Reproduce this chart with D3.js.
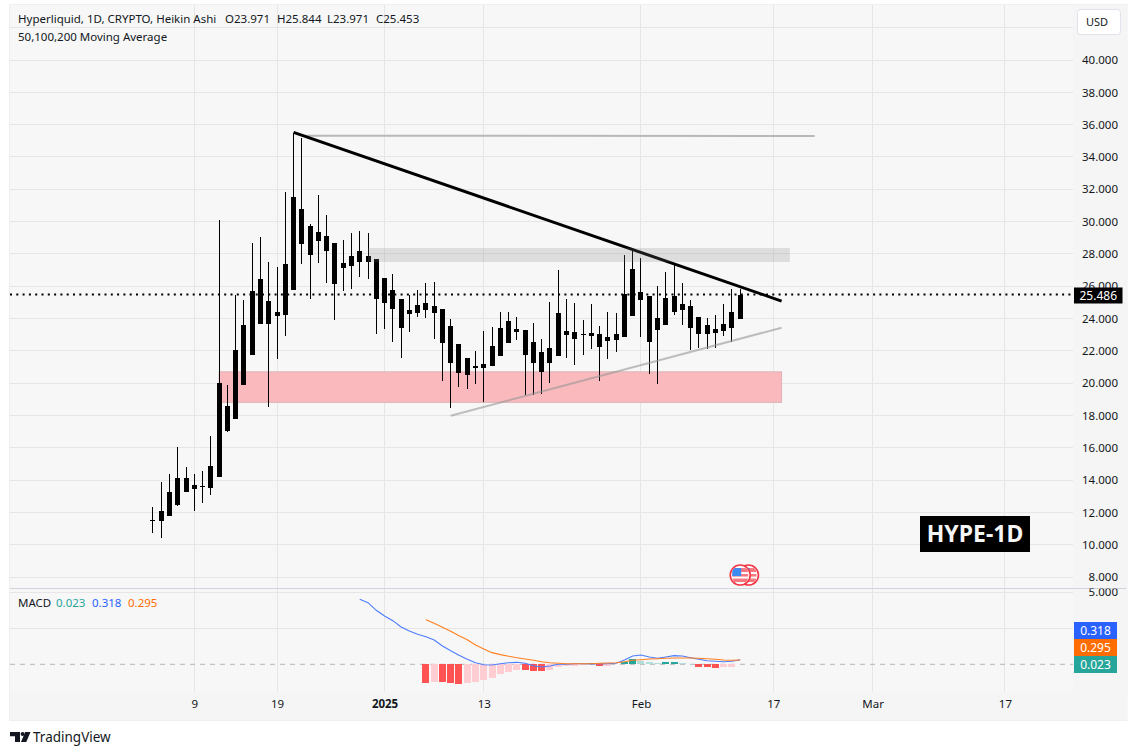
<!DOCTYPE html>
<html>
<head>
<meta charset="utf-8">
<title>HYPE-1D</title>
<script src="https://cdn.jsdelivr.net/npm/d3@7/dist/d3.min.js"></script>
<style>
  html, body { margin: 0; padding: 0; background: #fff; }
  text { font-family: "Noto Sans", sans-serif; fill: #131722; }
</style>
</head>
<body>
<div id="chart"></div>
<script>
// Heikin Ashi daily candles, first one is 2024-12-04
var firstDay = "2024-12-04";
var highs = [12.31, 13.88, 14.37, 16.04, 14.81, 14.37, 14.56, 16.72, 30.09, 19.88, 25.45, 25.14, 28.67, 29.04, 27.50, 27.19, 31.83, 35.48, 35.17, 29.85, 31.64, 30.40, 28.67, 28.86, 29.29, 29.41, 29.29, 27.68,
  26.51, 26.75, 25.20, 25.45, 25.76, 26.19, 26.26, 24.59, 23.97, 22.42, 21.55, 21.99, 23.22, 23.47, 24.40, 24.40, 24.09, 23.28, 23.72, 22.73, 25.02, 27.00, 25.20, 24.95, 23.91, 24.89, 23.53, 24.40, 24.34, 27.93, 28.36,
  27.74, 25.39, 26.01, 26.87, 27.37, 26.19, 25.14, 24.09, 24.03, 24.21, 24.89, 25.82, 25.844];
var lows = [10.74, 10.43, 11.77, 12.39, 13.26, 12.10, 12.58, 13.07, 14.19, 16.97, 17.80, 19.88, 21.74, 23.66, 18.54, 21.49, 22.91, 25.76, 27.37, 25.20, 27.43, 26.19, 23.91, 25.70, 25.82, 26.57, 26.44, 23.04,
  23.35, 22.54, 21.55, 23.16, 24.09, 24.03, 22.73, 20.13, 18.46, 19.76, 19.63, 19.94, 18.83, 21.06, 21.67, 22.48, 22.67, 19.26, 19.26, 19.32, 20.01, 21.67, 21.55, 21.12, 21.74, 22.11, 20.13, 21.49, 21.92, 22.85, 24.15,
  22.85, 20.56, 19.94, 23.60, 24.21, 23.60, 22.05, 22.17, 22.11, 22.17, 22.91, 22.54, 23.971];
var bodyTops = [11.54, 12.08, 13.26, 14.12, 14.12, 13.69, 13.64, 14.87, 20.01, 18.58, 22.05, 23.59, 25.70, 26.44, 25.08, 24.40, 27.37, 31.52, 30.77, 29.72, 29.35, 29.10, 28.67, 27.43, 27.87, 28.17, 27.87, 27.68,
  26.51, 25.76, 25.20, 24.52, 24.83, 24.95, 24.77, 24.59, 23.53, 22.42, 21.55, 21.04, 21.18, 22.30, 23.41, 23.84, 23.35, 23.28, 22.54, 21.92, 22.17, 24.34, 23.22, 23.16, 23.01, 23.10, 23.04, 22.85, 23.04, 25.51, 27.06,
  25.64, 25.39, 24.03, 25.26, 25.39, 24.89, 24.77, 24.09, 23.60, 23.35, 23.66, 24.40, 25.453];
var bodyBottoms = [11.50, 11.48, 11.77, 12.45, 13.26, 13.44, 13.58, 13.50, 14.19, 17.05, 17.80, 19.88, 21.74, 23.66, 23.66, 24.15, 24.21, 25.76, 28.61, 27.93, 28.79, 28.17, 26.13, 27.12, 27.25, 27.50, 27.50, 25.20,
  24.95, 24.59, 23.41, 24.28, 24.34, 24.52, 24.34, 22.48, 21.24, 20.63, 20.50, 20.96, 20.93, 21.06, 21.67, 22.48, 23.16, 21.74, 21.24, 20.69, 21.24, 21.67, 22.98, 22.73, 22.95, 22.91, 22.23, 22.60, 22.67, 22.85, 24.15,
  25.14, 22.54, 23.28, 23.60, 24.40, 24.52, 23.41, 23.04, 23.04, 23.10, 23.22, 23.41, 23.971];

var lastPrice = 25.486;
var headerText = "Hyperliquid, 1D, CRYPTO, Heikin Ashi";
var ohlcLabels = ["O23.971", "H25.844", "L23.971", "C25.453"];

// MACD lines start later than the candles because of the lookback
var macdStart = "2024-12-29";
var macdLine = [4.51, 4.28, 3.75, 3.35, 3.03, 2.59, 2.31, 2.08, 1.92, 1.69, 1.27, 0.94, 0.63, 0.35, 0.11, -0.03, -0.05, 0.04, 0.11, 0.14, 0.07, -0.10, -0.19, -0.12, 0, 0, 0.04, 0.04, 0.02, 0.04, 0.04, 0.07, 0.30, 0.58,
  0.65, 0.51, 0.42, 0.51, 0.60, 0.58, 0.46, 0.35, 0.25, 0.21, 0.18, 0.21, 0.318];
var signalStart = "2025-01-06";
var signalLine = [3.10, 2.85, 2.57, 2.29, 1.99, 1.71, 1.34, 1.06, 0.81, 0.67, 0.56, 0.46, 0.37, 0.28, 0.18, 0.11, 0.07, 0.04, 0.04, 0.04, 0.04, 0.07, 0.09, 0.11, 0.18, 0.28, 0.32, 0.37, 0.39, 0.42, 0.44, 0.44, 0.44, 0.42, 0.39, 0.35, 0.30, 0.28, 0.295];
var histogram = [-1.30, -1.23, -1.24, -1.30, -1.37, -1.32, -1.23, -1.09, -0.95, -0.67, -0.53, -0.39, -0.40, -0.46, -0.47, -0.39, -0.19, -0.12, -0.11, -0.03, 0.07, -0.10, -0.09, 0.04, 0.13, 0.37,
  0.25, 0.16, 0.11, 0.13, 0.19, 0.09, 0.05, -0.18, -0.20, -0.25, -0.19, -0.18, 0.023];

// axis ticks
var priceGrid = [8, 10, 12, 14, 16, 18, 20, 22, 24, 26, 28, 30, 32, 34, 36, 38, 40, 42];
var priceLabels = [8, 10, 12, 14, 16, 18, 20, 22, 24, 26, 28, 30, 32, 34, 36, 38, 40];
var macdGrid = [2.5, 5];
var timeTicks = ["2024-12-09", "2024-12-19", "2025-01-01", "2025-01-13", "2025-02-01", "2025-02-17", "2025-03-01", "2025-03-17"];
var timeLabels = ["9", "19", "2025", "13", "Feb", "17", "Mar", "17"];

// things drawn by hand on the chart
var blackLine = [["2024-12-21", 35.52], ["2025-02-18", 25.08]];
var topLine = [["2024-12-22", 35.31], ["2025-02-22", 35.30]];
var risingLine = [["2025-01-09", 17.98], ["2025-02-18", 23.43]];
var greyZone = { from: "2024-12-30", to: "2025-02-19", top: 28.36, bottom: 27.50 };
var redZone = { from: "2024-12-12", to: "2025-02-18", top: 20.70, bottom: 18.81 };
var eventDays = ["2025-02-14", "2025-02-13"];

var width = 1137, height = 755;
var plotLeft = 10, plotRight = 1073, panelRight = 1127, panelTop = 4, panelBottom = 720;
var plotBottom = 692, paneLine = 588.5;

var parseDay = d3.utcParse("%Y-%m-%d");

var x = d3.scaleUtc()
  .domain([parseDay("2024-12-09"), parseDay("2025-02-17")])
  .range([194.3, 773.3]);
var y = d3.scaleLinear().domain([8, 40]).range([577, 60]);
var yMacd = d3.scaleLinear().domain([0, 5]).range([664.3, 592.3]);

function daysFrom(start, n) {
  var first = parseDay(start);
  return d3.range(n).map(function (i) {
    return d3.utcDay.offset(first, i);
  });
}
function snap(v) {
  return Math.floor(v);
}

var svg = d3.select("#chart").append("svg")
  .attr("width", width)
  .attr("height", height)
  .style("display", "block");

svg.append("rect")
  .attr("x", 9.5).attr("y", panelTop + 0.5)
  .attr("width", panelRight - 9.5).attr("height", panelBottom - panelTop)
  .attr("fill", "#f7f7f7")
  .attr("stroke", "#efefef");
svg.append("rect")
  .attr("x", plotRight).attr("y", panelTop + 1)
  .attr("width", panelRight - plotRight - 0.5).attr("height", panelBottom - panelTop - 1)
  .attr("fill", "#f5f5f5");
svg.append("rect")
  .attr("x", 10).attr("y", plotBottom)
  .attr("width", panelRight - 10.5).attr("height", panelBottom - plotBottom)
  .attr("fill", "#f5f5f5");

svg.append("clipPath").attr("id", "macd-clip").append("rect")
  .attr("x", 0).attr("y", paneLine).attr("width", width).attr("height", height);

// grid
var gridColor = "#e6e6e6";
var timeDates = timeTicks.map(parseDay);

svg.append("g").selectAll("line")
  .data(timeDates)
  .enter().append("line")
  .attr("x1", function (d) { return snap(x(d)) + 0.5; })
  .attr("x2", function (d) { return snap(x(d)) + 0.5; })
  .attr("y1", panelTop + 1)
  .attr("y2", plotBottom)
  .attr("stroke", gridColor);

svg.append("g").selectAll("line")
  .data(priceGrid)
  .enter().append("line")
  .attr("x1", plotLeft)
  .attr("x2", plotRight)
  .attr("y1", function (d) { return snap(y(d)) + 0.5; })
  .attr("y2", function (d) { return snap(y(d)) + 0.5; })
  .attr("stroke", gridColor);

svg.append("g").selectAll("line")
  .data(macdGrid)
  .enter().append("line")
  .attr("x1", plotLeft)
  .attr("x2", plotRight)
  .attr("y1", function (d) { return snap(yMacd(d)) + 0.5; })
  .attr("y2", function (d) { return snap(yMacd(d)) + 0.5; })
  .attr("stroke", gridColor);

// red zone sits under the candles
svg.append("rect")
  .attr("x", x(parseDay(redZone.from)))
  .attr("y", y(redZone.top))
  .attr("width", x(parseDay(redZone.to)) - x(parseDay(redZone.from)))
  .attr("height", y(redZone.bottom) - y(redZone.top))
  .attr("fill", "#fab9bd")
  .attr("stroke", "#dcb4b7")
  .attr("stroke-width", 1);

// candles
var days = daysFrom(firstDay, highs.length);
var candles = svg.append("g").attr("shape-rendering", "crispEdges");

candles.selectAll("line")
  .data(days)
  .enter().append("line")
  .attr("x1", function (d) { return snap(x(d)) + 0.5; })
  .attr("x2", function (d) { return snap(x(d)) + 0.5; })
  .attr("y1", function (d, i) { return y(highs[i]); })
  .attr("y2", function (d, i) { return y(lows[i]); })
  .attr("stroke", "#000");

candles.selectAll("rect")
  .data(days)
  .enter().append("rect")
  .attr("x", function (d) { return snap(x(d)) - 2; })
  .attr("width", 5)
  .attr("y", function (d, i) { return y(bodyTops[i]); })
  .attr("height", function (d, i) {
    return Math.max(1, y(bodyBottoms[i]) - y(bodyTops[i]));
  })
  .attr("fill", "#000");

// last price line
svg.append("line")
  .attr("x1", plotLeft)
  .attr("x2", plotRight)
  .attr("y1", y(lastPrice))
  .attr("y2", y(lastPrice))
  .attr("stroke", "#000")
  .attr("stroke-width", 2)
  .attr("stroke-dasharray", "2 4.3");

// drawn lines
function drawnLine(points, color, w) {
  svg.append("line")
    .attr("x1", x(parseDay(points[0][0])))
    .attr("y1", y(points[0][1]))
    .attr("x2", x(parseDay(points[1][0])))
    .attr("y2", y(points[1][1]))
    .attr("stroke", color)
    .attr("stroke-width", w);
}
drawnLine(topLine, "#b8b8b8", 2);
drawnLine(blackLine, "#000", 3);
drawnLine(risingLine, "rgba(150,150,150,0.6)", 2);

// grey zone goes over the black line, it fades it a little
svg.append("rect")
  .attr("x", x(parseDay(greyZone.from)))
  .attr("y", y(greyZone.top))
  .attr("width", x(parseDay(greyZone.to)) - x(parseDay(greyZone.from)))
  .attr("height", y(greyZone.bottom) - y(greyZone.top))
  .attr("fill", "rgba(120,120,120,0.2)");

// economic event flags
svg.append("clipPath").attr("id", "flag-clip").append("circle")
  .attr("r", 9);

var flags = svg.append("g").selectAll("g")
  .data(eventDays)
  .enter().append("g")
  .attr("transform", function (d) {
    return "translate(" + x(parseDay(d)) + "," + y(8.12) + ")";
  });
flags.append("circle").attr("r", 10).attr("fill", "#fff").attr("stroke", "#f23645").attr("stroke-width", 1.6);
var flagInner = flags.append("g").attr("clip-path", "url(#flag-clip)");
flagInner.append("rect").attr("x", -8).attr("y", -7).attr("width", 16).attr("height", 4).attr("fill", "#f7777f");
flagInner.append("rect").attr("x", -8).attr("y", -1).attr("width", 16).attr("height", 2.5).attr("fill", "#f7777f");
flagInner.append("rect").attr("x", -8).attr("y", 3.5).attr("width", 16).attr("height", 3.5).attr("fill", "#f7777f");
flagInner.append("rect").attr("x", -8).attr("y", -7).attr("width", 9).attr("height", 8).attr("fill", "#3d8bf0");

// pane divider
svg.append("line")
  .attr("x1", plotLeft).attr("x2", panelRight - 0.5)
  .attr("y1", paneLine).attr("y2", paneLine)
  .attr("stroke", "#d3d3de")
  .attr("stroke-width", 1.2);

// MACD pane
svg.append("line")
  .attr("x1", plotLeft)
  .attr("x2", plotRight)
  .attr("y1", yMacd(0))
  .attr("y2", yMacd(0))
  .attr("stroke", "#b2b5be")
  .attr("stroke-dasharray", "5 5");

var histDays = daysFrom(signalStart, histogram.length);
svg.append("g").attr("shape-rendering", "crispEdges")
  .selectAll("rect")
  .data(histDays)
  .enter().append("rect")
  .attr("x", function (d) { return snap(x(d)) - 3; })
  .attr("width", 7)
  .attr("y", function (d, i) { return Math.min(yMacd(histogram[i]), yMacd(0)); })
  .attr("height", function (d, i) { return Math.abs(yMacd(histogram[i]) - yMacd(0)); })
  .attr("fill", function (d, i) {
    var v = histogram[i], rising = i > 0 && v > histogram[i - 1];
    if (v >= 0) return rising ? "#26a69a" : "#b2dfdb";
    return rising ? "#ffcdd2" : "#ff5252";
  });

var macdPath = d3.line()
  .x(function (d) { return x(d[0]); })
  .y(function (d) { return yMacd(d[1]); });

svg.append("path")
  .attr("d", macdPath(d3.zip(daysFrom(macdStart, macdLine.length), macdLine)))
  .attr("fill", "none")
  .attr("stroke", "#4d7dff")
  .attr("stroke-width", 1.1);

svg.append("path")
  .attr("d", macdPath(d3.zip(daysFrom(signalStart, signalLine.length), signalLine)))
  .attr("fill", "none")
  .attr("stroke", "#ff7f1e")
  .attr("stroke-width", 1.1);

// axes
var priceAxis = d3.axisRight(y)
  .tickValues(priceLabels)
  .tickSize(0)
  .tickFormat(d3.format(".3f"));
var priceG = svg.append("g")
  .attr("transform", "translate(1118,0)")
  .call(priceAxis);
priceG.select(".domain").remove();
priceG.selectAll("text")
  .attr("x", 0)
  .attr("text-anchor", "end")
  .style("font-size", "11.5px")
  .style("font-family", '"Noto Sans", sans-serif')
  .attr("fill", "#131722");

var macdAxis = d3.axisRight(yMacd)
  .tickValues([5])
  .tickSize(0)
  .tickFormat(d3.format(".3f"));
var macdG = svg.append("g")
  .attr("clip-path", "url(#macd-clip)")
  .append("g")
  .attr("transform", "translate(1118,0)")
  .call(macdAxis);
macdG.select(".domain").remove();
macdG.selectAll("text")
  .attr("x", 0)
  .attr("text-anchor", "end")
  .style("font-size", "11.5px")
  .style("font-family", '"Noto Sans", sans-serif')
  .attr("fill", "#131722");

var timeAxis = d3.axisBottom(x)
  .tickValues(timeDates)
  .tickSize(0)
  .tickFormat(function (d, i) { return timeLabels[i]; });
var timeG = svg.append("g")
  .attr("transform", "translate(0,697)")
  .call(timeAxis);
timeG.select(".domain").remove();
timeG.selectAll("text")
  .style("font-size", "11.5px")
  .style("font-family", '"Noto Sans", sans-serif')
  .style("font-weight", function (d, i) { return timeLabels[i] == "2025" ? 700 : 400; })
  .attr("fill", "#131722");

// price badges
var badges = [
  { value: lastPrice, top: 287.5, right: 1122.5, color: "#000", h: 16 },
  { value: macdLine[macdLine.length - 1], top: 622, right: 1117, color: "#2962ff", h: 17 },
  { value: signalLine[signalLine.length - 1], top: 639, right: 1117, color: "#ff6d00", h: 17 },
  { value: histogram[histogram.length - 1], top: 656, right: 1117, color: "#26a69a", h: 17 }
];
var badge = svg.append("g").selectAll("g")
  .data(badges)
  .enter().append("g");
badge.append("rect")
  .attr("x", plotRight + 1)
  .attr("y", function (d) { return d.top; })
  .attr("width", function (d) { return d.right - plotRight - 1; })
  .attr("height", function (d) { return d.h; })
  .attr("fill", function (d) { return d.color; });
badge.append("text")
  .attr("x", function (d) { return (d.right + plotRight + 1) / 2; })
  .attr("y", function (d) { return d.top + d.h / 2 + 4; })
  .attr("text-anchor", "middle")
  .style("font-size", "12px")
  .style("fill", "#fff")
  .text(function (d) { return d3.format(".3f")(d.value); });

// header
svg.append("text")
  .attr("x", 18).attr("y", 23)
  .style("font-size", "11.5px")
  .text(headerText);
svg.append("g").selectAll("text")
  .data(ohlcLabels)
  .enter().append("text")
  .attr("x", function (d, i) { return [225, 277, 327, 376][i]; })
  .attr("y", 23)
  .style("font-size", "11.5px")
  .text(function (d) { return d; });
svg.append("text")
  .attr("x", 18).attr("y", 41)
  .style("font-size", "11.5px")
  .text("50,100,200 Moving Average");

// MACD legend
var legendItems = [
  { t: "MACD", x: 18, c: "#131722" },
  { t: d3.format(".3f")(histogram[histogram.length - 1]), x: 56, c: "#26a69a" },
  { t: d3.format(".3f")(macdLine[macdLine.length - 1]), x: 92, c: "#2962ff" },
  { t: d3.format(".3f")(signalLine[signalLine.length - 1]), x: 128, c: "#ff6d00" }
];
svg.append("g").selectAll("text")
  .data(legendItems)
  .enter().append("text")
  .attr("x", function (d) { return d.x; })
  .attr("y", 607)
  .style("font-size", "11.5px")
  .style("fill", function (d) { return d.c; })
  .text(function (d) { return d.t; });

// USD button
svg.append("rect")
  .attr("x", 1077.5).attr("y", 9.5)
  .attr("width", 43).attr("height", 25)
  .attr("rx", 3)
  .attr("fill", "#fff")
  .attr("stroke", "#e0e3eb");
svg.append("text")
  .attr("x", 1097).attr("y", 26)
  .attr("text-anchor", "middle")
  .style("font-size", "11px")
  .text("USD");

// title box
svg.append("rect")
  .attr("x", 920).attr("y", 516)
  .attr("width", 110).attr("height", 36)
  .attr("fill", "#000");
svg.append("text")
  .attr("x", 975).attr("y", 542)
  .attr("text-anchor", "middle")
  .style("font-size", "23px")
  .style("font-weight", 700)
  .style("fill", "#f5f5f5")
  .text("HYPE-1D");

// TradingView mark
var logo = svg.append("g").attr("fill", "#131722");
logo.append("path").attr("d", "M10 732H20V742H15V736.2H10Z");
logo.append("circle").attr("cx", 22.6).attr("cy", 734).attr("r", 2);
logo.append("path").attr("d", "M25.2 732H30.5L26.3 742H21Z");
svg.append("text")
  .attr("x", 33).attr("y", 742)
  .style("font-size", "13.5px")
  .text("TradingView");
</script>
</body>
</html>
